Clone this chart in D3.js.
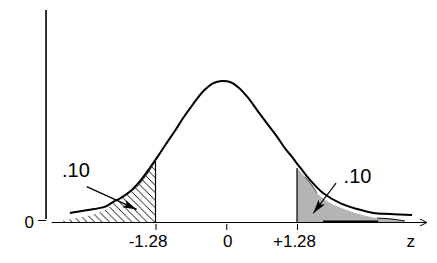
<!DOCTYPE html>
<html>
<head>
<meta charset="utf-8">
<script src="https://cdn.jsdelivr.net/npm/d3@7"></script>
<style>
body { margin: 0; background: #fff; }
svg { display: block; }
text { font-family: "Liberation Sans", Arial, sans-serif; fill: #000; }
</style>
</head>
<body>
<script>
// main (hand drawn) curve: z and height
var curveZ = [-2.83, -2.50, -2.19, -2.05, -1.89, -1.74, -1.62, -1.51, -1.42, -1.33, -1.23, -1.09, -0.93, -0.78, -0.60, -0.42, -0.24, -0.08,
              0.07, 0.21, 0.39, 0.57, 0.76, 0.94, 1.06, 1.19, 1.28, 1.37, 1.48, 1.64, 1.75, 2.06, 2.37, 2.66, 2.96, 3.36];
var curveH = [0.026, 0.034, 0.044, 0.057, 0.070, 0.087, 0.106, 0.127, 0.146, 0.167, 0.189, 0.223, 0.260, 0.297, 0.337, 0.373, 0.396, 0.403,
              0.400, 0.386, 0.356, 0.317, 0.277, 0.239, 0.211, 0.186, 0.167, 0.149, 0.127, 0.099, 0.083, 0.054, 0.037, 0.026, 0.023, 0.020];

// hatched lower tail (top edge)
var leftZ = [-3.06, -2.79, -2.50, -2.19, -1.98, -1.83, -1.62, -1.42, -1.28];
var leftH = [0, 0.009, 0.018, 0.034, 0.063, 0.079, 0.100, 0.140, 0.174];

// grey upper tail (top edge)
var rightZ = [1.28, 1.42, 1.52, 1.64, 1.88, 2.18, 2.47, 2.73, 2.96, 3.23];
var rightH = [0.154, 0.129, 0.111, 0.083, 0.054, 0.034, 0.020, 0.011, 0.009, 0.003];

var tickVals = [-1.28, 0, 1.28];
var tickLabels = ["-1.28", "0", "+1.28"];
var tickShift = [-8, 1, -3]; // labels sit a bit off their ticks

var tailText = [".10", ".10"];
var textZ = [-2.72, 2.375], textH = [0.129, 0.111];
var arrowFromZ = [-2.525, 1.986], arrowFromH = [0.101, 0.111];
var arrowToZ = [-1.62, 1.575], arrowToH = [0.036, 0.025];

var width = 437, height = 263;

var x = d3.scaleLinear().domain([-1.28, 1.28]).range([155.5, 297]);
var y = d3.scaleLinear().domain([0, 0.4]).range([222, 82]);

var svg = d3.select("body").append("svg")
    .attr("width", width)
    .attr("height", height);

var defs = svg.append("defs");

defs.append("pattern")
    .attr("id", "hatch")
    .attr("patternUnits", "userSpaceOnUse")
    .attr("width", 7.5)
    .attr("height", 7.5)
  .append("path")
    .attr("d", "M0,0L7.5,7.5M-1,6.5L1,8.5M6.5,-1L8.5,1")
    .attr("stroke", "#000")
    .attr("stroke-width", 1)
    .attr("shape-rendering", "crispEdges");

defs.append("marker")
    .attr("id", "head")
    .attr("markerUnits", "userSpaceOnUse")
    .attr("markerWidth", 15)
    .attr("markerHeight", 9)
    .attr("refX", 14)
    .attr("refY", 4.5)
    .attr("orient", "auto")
  .append("path")
    .attr("d", "M0,0.5L14,4.5L0,8.5L3,4.5Z")
    .attr("fill", "#000");

function pts(zs, hs) {
  return zs.map(function(z, i) { return [z, hs[i]]; });
}

// tail areas
var area = d3.area()
    .x(function(d) { return x(d[0]); })
    .y0(y(0))
    .y1(function(d) { return y(d[1]); })
    .curve(d3.curveCatmullRom);

svg.append("path")
    .datum(pts(leftZ, leftH))
    .attr("d", area)
    .attr("fill", "url(#hatch)");

svg.append("path")
    .datum(pts(rightZ, rightH))
    .attr("d", area)
    .attr("fill", "#b4b4b4");

var line = d3.line()
    .x(function(d) { return x(d[0]); })
    .y(function(d) { return y(d[1]); })
    .curve(d3.curveCatmullRom);

// thin edge bits of the shaded areas
svg.append("path")
    .datum(pts(leftZ.slice(4), leftH.slice(4)))
    .attr("d", line)
    .attr("fill", "none")
    .attr("stroke", "#000")
    .attr("stroke-width", 0.8);

svg.append("path")
    .datum(pts(rightZ.slice(1, 4), rightH.slice(1, 4)))
    .attr("d", line)
    .attr("fill", "none")
    .attr("stroke", "#000")
    .attr("stroke-width", 0.8);

svg.append("path")
    .datum(pts(rightZ.slice(7), rightH.slice(7)))
    .attr("d", line)
    .attr("fill", "none")
    .attr("stroke", "#000")
    .attr("stroke-width", 1);

// cut-off lines
svg.selectAll(".cut")
    .data([[leftZ[leftZ.length - 1], leftH[leftH.length - 1]], [rightZ[0], rightH[0]]])
  .enter().append("line")
    .attr("class", "cut")
    .attr("x1", function(d) { return x(d[0]); })
    .attr("x2", function(d) { return x(d[0]); })
    .attr("y1", function(d) { return y(d[1]); })
    .attr("y2", y(0))
    .attr("stroke", "#000")
    .attr("stroke-width", 1.2);

// main curve
svg.append("path")
    .datum(pts(curveZ, curveH))
    .attr("d", line)
    .attr("fill", "none")
    .attr("stroke", "#000")
    .attr("stroke-width", 2);

// x axis line with open arrow
var axisZ = [-3.16, 3.63];
svg.append("line")
    .attr("x1", x(axisZ[0]))
    .attr("x2", x(axisZ[1]))
    .attr("y1", y(0) + 0.5)
    .attr("y2", y(0) + 0.5)
    .attr("stroke", "#000")
    .attr("stroke-width", 1);

svg.append("path")
    .attr("d", "M" + (x(axisZ[1]) - 7) + "," + (y(0) - 3) + "L" + x(axisZ[1]) + "," + (y(0) + 0.5) + "L" + (x(axisZ[1]) - 7) + "," + (y(0) + 4))
    .attr("fill", "none")
    .attr("stroke", "#000")
    .attr("stroke-width", 1);

// thick bit along the base under the grey tail
svg.append("line")
    .attr("x1", x(1.75))
    .attr("x2", x(2.75))
    .attr("y1", y(0) - 0.5)
    .attr("y2", y(0) - 0.5)
    .attr("stroke", "#000")
    .attr("stroke-width", 2);

var xAxis = d3.axisBottom(x)
    .tickValues(tickVals)
    .tickSize(6)
    .tickPadding(5)
    .tickFormat(function(d, i) { return tickLabels[i]; });

var gx = svg.append("g")
    .attr("transform", "translate(0," + (y(0) + 2) + ")")
    .call(xAxis);
gx.select(".domain").remove();
gx.selectAll("text")
    .attr("dx", function(d, i) { return tickShift[i]; })
    .style("font-size", "17px")
    .style("font-family", "'Liberation Sans', Arial, sans-serif")
    .style("fill", "#000");

svg.append("text")
    .attr("x", x(3.34))
    .attr("y", y(0) + 25)
    .attr("text-anchor", "middle")
    .style("font-size", "17px")
    .text("z");

// y axis
var axisX = x(-3.26);
svg.append("line")
    .attr("x1", axisX)
    .attr("x2", axisX)
    .attr("y1", y(0.606))
    .attr("y2", y(0.0086))
    .attr("stroke", "#000")
    .attr("stroke-width", 1.6);

var yAxis = d3.axisLeft(y)
    .tickValues([0])
    .tickSize(8)
    .tickPadding(4)
    .tickFormat(d3.format("d"));

var gy = svg.append("g")
    .attr("transform", "translate(" + axisX + ",-2)")
    .call(yAxis);
gy.select(".domain").remove();
gy.selectAll("text")
    .attr("dy", "0.42em")
    .style("font-size", "17px")
    .style("font-family", "'Liberation Sans', Arial, sans-serif")
    .style("fill", "#000");

// .10 labels and arrows
svg.selectAll(".tail")
    .data(tailText)
  .enter().append("text")
    .attr("class", "tail")
    .attr("x", function(d, i) { return x(textZ[i]); })
    .attr("y", function(d, i) { return y(textH[i]); })
    .attr("text-anchor", "middle")
    .style("font-size", "20px")
    .text(function(d) { return d; });

svg.selectAll(".arrow")
    .data(tailText)
  .enter().append("line")
    .attr("class", "arrow")
    .attr("x1", function(d, i) { return x(arrowFromZ[i]); })
    .attr("y1", function(d, i) { return y(arrowFromH[i]); })
    .attr("x2", function(d, i) { return x(arrowToZ[i]); })
    .attr("y2", function(d, i) { return y(arrowToH[i]); })
    .attr("stroke", "#000")
    .attr("stroke-width", 1.2)
    .attr("marker-end", "url(#head)");
</script>
</body>
</html>
